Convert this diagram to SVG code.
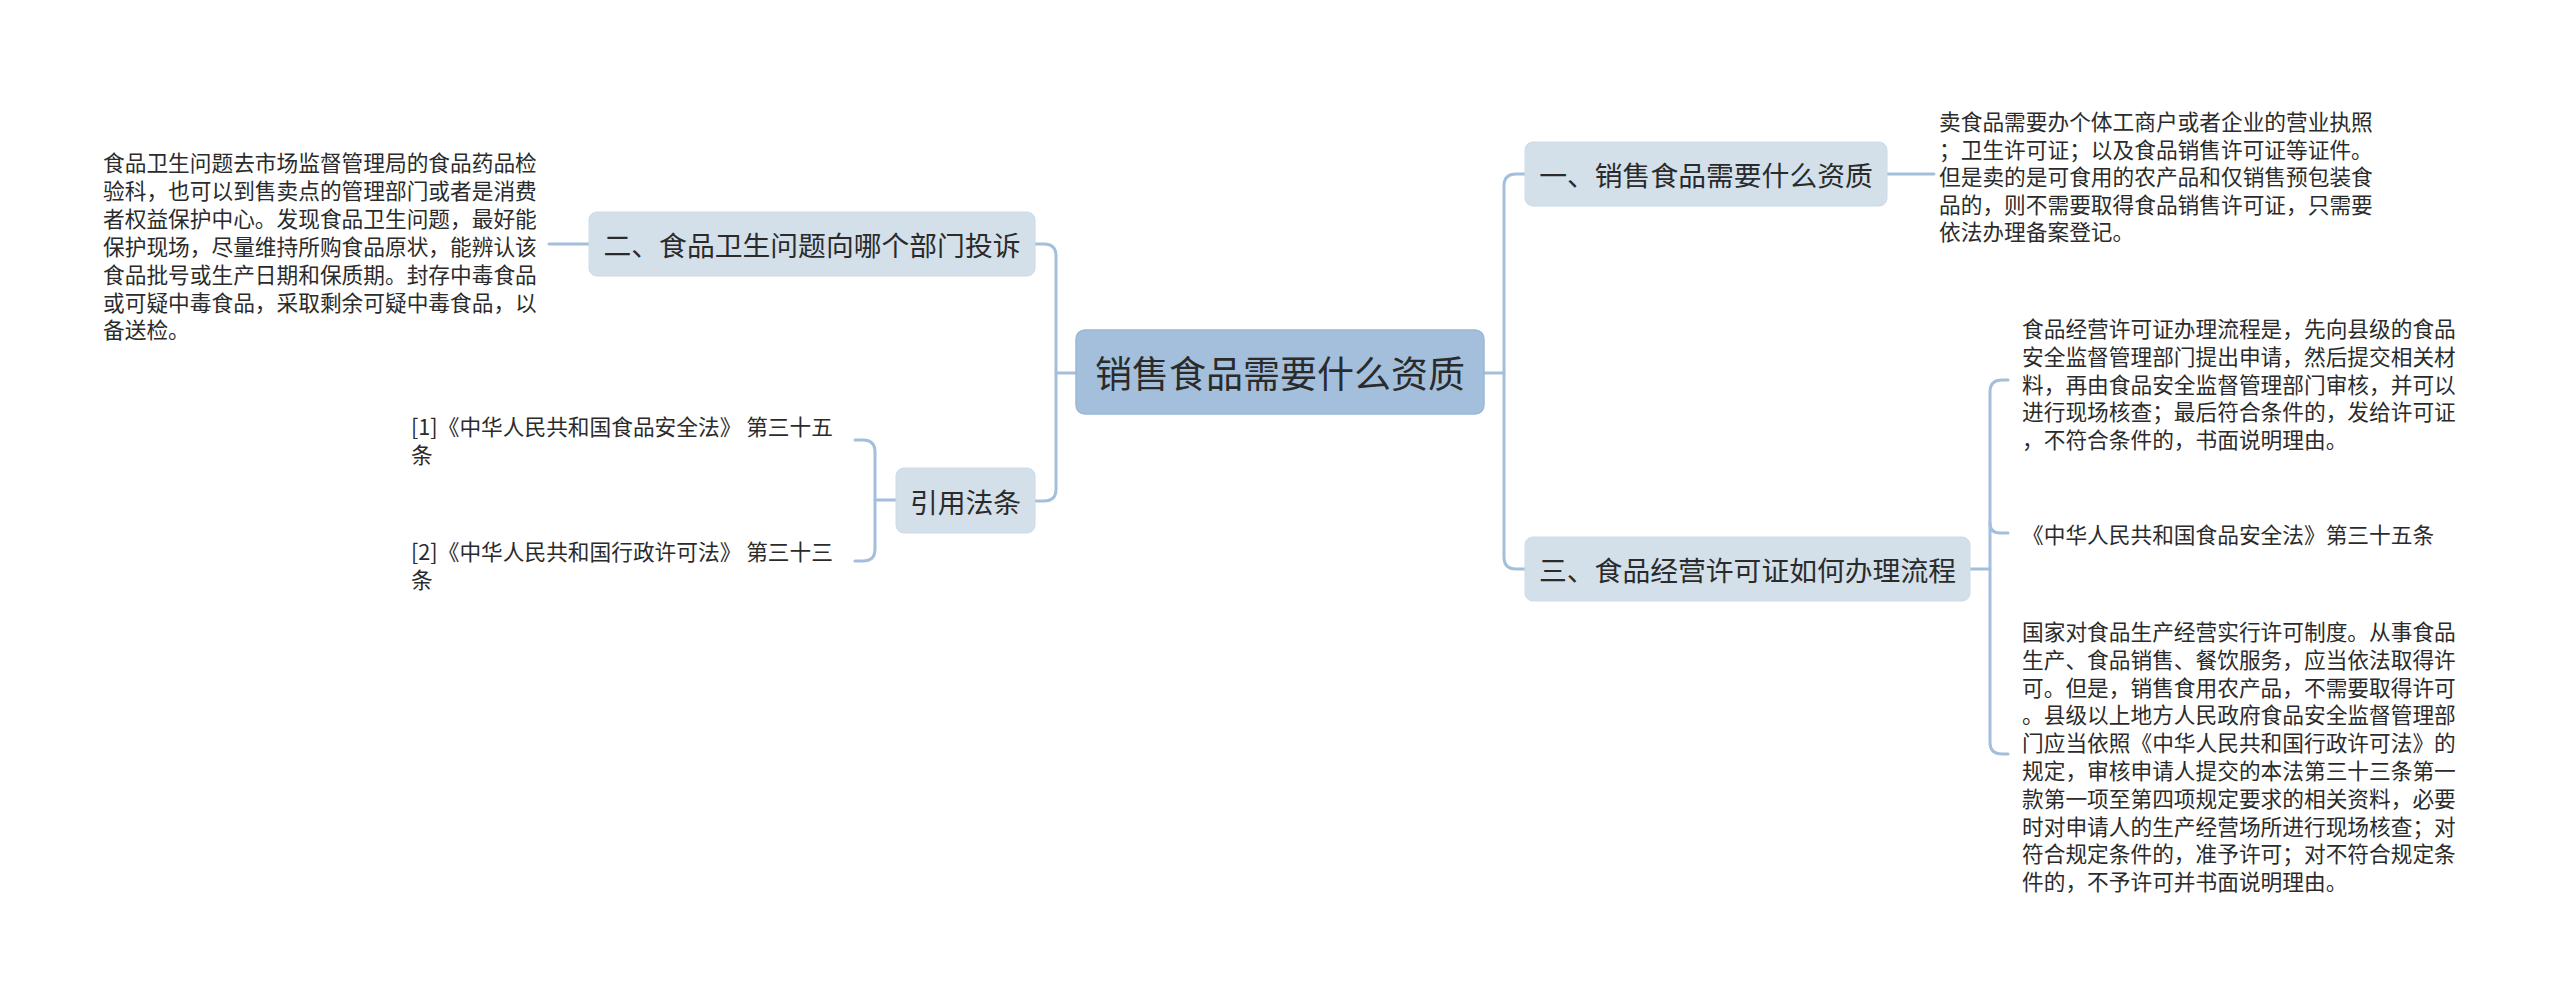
<svg xmlns="http://www.w3.org/2000/svg" width="2560" height="998" viewBox="0 0 2560 998">
<style>
.bg{fill:#ffffff}
.root rect{fill:#a3bfdb;stroke:#9bb8d5;stroke-width:1.5}
.sub rect{fill:#d3e0ea;stroke:#cddbe6;stroke-width:1}
.t{font-family:"Noto Sans CJK SC","Noto Sans",sans-serif;fill:#2b2b2b;dominant-baseline:central}
.rt{font-size:37px;text-anchor:middle}
.st{font-size:27.8px;text-anchor:middle}
.lt{font-size:21.7px}
#connectors path{fill:none;stroke:#a3bfdb;stroke-width:3;stroke-linecap:round}
</style>
<rect class="bg" x="0" y="0" width="2560" height="998"/>
<g id="connectors">
<path d="M1484,373 H1504"/>
<path d="M1525,174 H1516 Q1504,174 1504,186 V557 Q1504,569 1516,569 H1525"/>
<path d="M1076,373 H1056"/>
<path d="M1035,244 H1044 Q1056,244 1056,256 V489 Q1056,501 1044,501 H1035"/>
<path d="M1887,174 H1934"/>
<path d="M589,244 H549"/>
<path d="M1970,569 H1990"/>
<path d="M2008,380 H2002 Q1990,380 1990,392 V742 Q1990,754 2002,754 H2008"/>
<path d="M1990,523 Q1990,533 2000,533 H2008"/>
<path d="M896,500 H875"/>
<path d="M855,440 H863 Q875,440 875,452 V549 Q875,561 863,561 H855"/>
</g>
<g id="root" class="root">
<rect x="1076" y="330" width="408" height="84" rx="9"/>
<text class="t rt" x="1280" y="372">销售食品需要什么资质</text>
</g>
<g id="n1" class="sub">
<rect x="1525" y="142" width="362" height="64" rx="8"/>
<text class="t st" x="1706" y="174">一、销售食品需要什么资质</text>
</g>
<g id="n3" class="sub">
<rect x="1525" y="537" width="445" height="64" rx="8"/>
<text class="t st" x="1747.5" y="569">三、食品经营许可证如何办理流程</text>
</g>
<g id="n2" class="sub">
<rect x="589" y="212" width="446" height="64" rx="8"/>
<text class="t st" x="812" y="244">二、食品卫生问题向哪个部门投诉</text>
</g>
<g id="nref" class="sub">
<rect x="896" y="468" width="139" height="65" rx="8"/>
<text class="t st" x="965.5" y="500.5">引用法条</text>
</g>
<g id="leaf1">
<text class="t lt">
<tspan x="1939" y="120">卖食品需要办个体工商户或者企业的营业执照</tspan>
<tspan x="1939" y="147.5">；卫生许可证；以及食品销售许可证等证件。</tspan>
<tspan x="1939" y="175">但是卖的是可食用的农产品和仅销售预包装食</tspan>
<tspan x="1939" y="202.5">品的，则不需要取得食品销售许可证，只需要</tspan>
<tspan x="1939" y="230">依法办理备案登记。</tspan>
</text>
</g>
<g id="leaf3a">
<text class="t lt">
<tspan x="2022" y="327">食品经营许可证办理流程是，先向县级的食品</tspan>
<tspan x="2022" y="354.8">安全监督管理部门提出申请，然后提交相关材</tspan>
<tspan x="2022" y="382.6">料，再由食品安全监督管理部门审核，并可以</tspan>
<tspan x="2022" y="410.4">进行现场核查；最后符合条件的，发给许可证</tspan>
<tspan x="2022" y="438.2">，不符合条件的，书面说明理由。</tspan>
</text>
</g>
<g id="leaf3b">
<text class="t lt" x="2022" y="533">《中华人民共和国食品安全法》第三十五条</text>
</g>
<g id="leaf3c">
<text class="t lt">
<tspan x="2022" y="630">国家对食品生产经营实行许可制度。从事食品</tspan>
<tspan x="2022" y="657.8">生产、食品销售、餐饮服务，应当依法取得许</tspan>
<tspan x="2022" y="685.6">可。但是，销售食用农产品，不需要取得许可</tspan>
<tspan x="2022" y="713.4">。县级以上地方人民政府食品安全监督管理部</tspan>
<tspan x="2022" y="741.2">门应当依照《中华人民共和国行政许可法》的</tspan>
<tspan x="2022" y="769">规定，审核申请人提交的本法第三十三条第一</tspan>
<tspan x="2022" y="796.8">款第一项至第四项规定要求的相关资料，必要</tspan>
<tspan x="2022" y="824.6">时对申请人的生产经营场所进行现场核查；对</tspan>
<tspan x="2022" y="852.4">符合规定条件的，准予许可；对不符合规定条</tspan>
<tspan x="2022" y="880.2">件的，不予许可并书面说明理由。</tspan>
</text>
</g>
<g id="leaf2">
<text class="t lt">
<tspan x="103" y="161">食品卫生问题去市场监督管理局的食品药品检</tspan>
<tspan x="103" y="188.9">验科，也可以到售卖点的管理部门或者是消费</tspan>
<tspan x="103" y="216.8">者权益保护中心。发现食品卫生问题，最好能</tspan>
<tspan x="103" y="244.7">保护现场，尽量维持所购食品原状，能辨认该</tspan>
<tspan x="103" y="272.6">食品批号或生产日期和保质期。封存中毒食品</tspan>
<tspan x="103" y="300.5">或可疑中毒食品，采取剩余可疑中毒食品，以</tspan>
<tspan x="103" y="328.4">备送检。</tspan>
</text>
</g>
<g id="ref1">
<text class="t lt">
<tspan x="411" y="425">[1]《中华人民共和国食品安全法》 第三十五</tspan>
<tspan x="411" y="453">条</tspan>
</text>
</g>
<g id="ref2">
<text class="t lt">
<tspan x="411" y="550">[2]《中华人民共和国行政许可法》 第三十三</tspan>
<tspan x="411" y="578">条</tspan>
</text>
</g>
</svg>
